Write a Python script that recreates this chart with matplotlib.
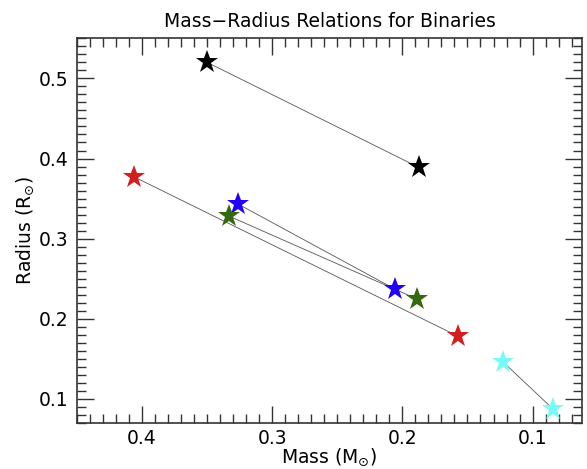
import matplotlib
matplotlib.use("Agg")
import matplotlib.pyplot as plt

# Binary pairs: (primary, secondary) masses and radii in solar units
pairNames = ["black", "red", "blue", "green", "cyan"]
mass1 = [0.350, 0.406, 0.326, 0.333, 0.1225]
mass2 = [0.1875, 0.157, 0.2057, 0.1885, 0.084]
radius1 = [0.520, 0.377, 0.343, 0.328, 0.146]
radius2 = [0.389, 0.178, 0.237, 0.2245, 0.087]
starColors = ["#000000", "#d11f1f", "#2200f5", "#35690f", "#7af9f9"]

fig = plt.figure(figsize=(5.87, 4.69), dpi=100)
ax = fig.add_axes([0.1312, 0.0981, 0.8603, 0.8202])

# thin connecting lines first, stars on top
for i in range(len(pairNames)):
    ax.plot([mass1[i], mass2[i]], [radius1[i], radius2[i]], color="#555555", linewidth=0.6, zorder=1)
for i in range(len(pairNames)):
    ax.plot([mass1[i], mass2[i]], [radius1[i], radius2[i]], linestyle="none", marker="*",
            markersize=17, color=starColors[i], markeredgewidth=0, zorder=2)

ax.set_xlim(0.45, 0.062)
ax.set_ylim(0.07, 0.55)
ax.set_xticks([0.4, 0.3, 0.2, 0.1])
ax.set_yticks([0.1, 0.2, 0.3, 0.4, 0.5])
ax.minorticks_on()
ax.xaxis.set_minor_locator(matplotlib.ticker.MultipleLocator(0.01))
ax.yaxis.set_minor_locator(matplotlib.ticker.MultipleLocator(0.01))
ax.tick_params(which="both", direction="in", top=True, right=True, color="#333333", labelsize=13.5)
ax.tick_params(which="major", length=12.5, width=1.0)
ax.tick_params(which="minor", length=6.2, width=1.0)
ax.tick_params(axis="x", which="major", pad=4)
ax.tick_params(axis="y", which="major", pad=6)
for s in ax.spines.values():
    s.set_linewidth(1.2)
    s.set_color("#333333")

ax.set_xlabel(r"Mass (M$_{\odot}$)", fontsize=13.5, labelpad=-1)
ax.set_ylabel(r"Radius (R$_{\odot}$)", fontsize=13.5, labelpad=2)
ax.set_title("Mass\u2212Radius Relations for Binaries", fontsize=13.5, pad=8)

fig.savefig("out.png", dpi=100)
